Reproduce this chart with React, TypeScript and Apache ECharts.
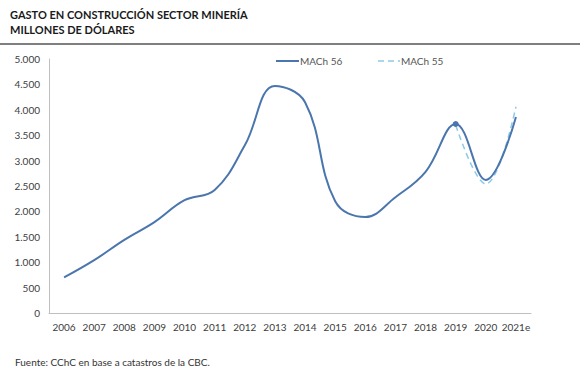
import React, { useEffect, useRef } from "react";
import * as echarts from "echarts";

const categories = ["2006","2007","2008","2009","2010","2011","2012","2013","2014","2015","2016","2017","2018","2019","2020","2021e"];
const mach56 = [700, 1040, 1440, 1790, 2220, 2420, 3300, 4470, 4150, 2200, 1890, 2280, 2780, 3720, 2620, 3860];
const mach55: (number | null)[] = [null, null, null, null, null, null, null, null, null, null, null, null, null, 3700, 2540, 4060];
const yTicks = { min: 0, max: 5000, interval: 500 };
const seriesNames = ["MACh 56", "MACh 55"];

const fmt = (v: number) => v.toString().replace(/\B(?=(\d{3})+(?!\d))/g, ".");

export default function App() {
  const ref = useRef<HTMLDivElement>(null);
  useEffect(() => {
    if (!ref.current) return;
    const chart = echarts.init(ref.current, undefined, { renderer: "svg" });
    const font = "Lato, 'Open Sans', sans-serif";
    const c56 = "#4a76ad";
    const c55 = "#8ecae6";
    chart.setOption({
      animation: false,
      backgroundColor: "#ffffff",
      textStyle: { fontFamily: font },
      grid: { left: 49, right: 56, top: 59, bottom: 69 },
      legend: { show: false },
      graphic: [
        { type: "text", left: 10, top: 9, style: { text: "GASTO EN CONSTRUCCIÓN SECTOR MINERÍA", font: `bold 11px ${font}`, fill: "#1a1a1a" } },
        { type: "text", left: 10, top: 24, style: { text: "MILLONES DE DÓLARES", font: `bold 11px ${font}`, fill: "#1a1a1a" } },
        { type: "line", shape: { x1: 0, y1: 44, x2: 580, y2: 44 }, style: { stroke: "#555555", lineWidth: 1.5 } },
        { type: "text", left: 15, top: 357, style: { text: "Fuente: CChC en base a catastros de la CBC.", font: `10px ${font}`, fill: "#333333" } },
        { type: "line", shape: { x1: 276, y1: 61, x2: 299, y2: 61 }, style: { stroke: c56, lineWidth: 2 } },
        { type: "text", x: 300, y: 61, style: { text: seriesNames[0], font: `10px ${font}`, fill: "#555555", verticalAlign: "middle" } },
        { type: "line", shape: { x1: 378, y1: 61, x2: 400, y2: 61 }, style: { stroke: c55, lineWidth: 1.5, lineDash: [6, 4] } },
        { type: "text", x: 401, y: 61, style: { text: seriesNames[1], font: `10px ${font}`, fill: "#555555", verticalAlign: "middle" } },
      ],
      xAxis: {
        type: "category",
        data: categories,
        boundaryGap: true,
        axisLine: { lineStyle: { color: "#bfbfbf", width: 1 } },
        axisTick: { show: false },
        axisLabel: { fontSize: 10, color: "#404040", margin: 9, interval: 0 },
      },
      yAxis: {
        type: "value",
        min: yTicks.min,
        max: yTicks.max,
        interval: yTicks.interval,
        axisLine: { show: true, lineStyle: { color: "#bfbfbf", width: 1 } },
        axisTick: { show: false },
        splitLine: { show: false },
        axisLabel: { fontSize: 10, color: "#404040", margin: 9, formatter: (v: number) => fmt(v) },
      },
      series: [
        {
          name: seriesNames[0],
          type: "line",
          data: mach56.map((v, i) => (i === 13 ? { value: v, symbol: "circle", symbolSize: 6 } : v)),
          smooth: 0.4,
          symbol: "none",
          lineStyle: { color: c56, width: 2 },
          itemStyle: { color: c56 },
          z: 3,
        },
        {
          name: seriesNames[1],
          type: "line",
          data: mach55,
          smooth: 0.4,
          symbol: "none",
          lineStyle: { color: c55, width: 1.5, type: [6, 4] },
          itemStyle: { color: c55 },
          z: 2,
        },
      ],
    });
    return () => chart.dispose();
  }, []);
  return <div ref={ref} style={{ position: "fixed", left: 0, top: 0, width: 587, height: 382 }} />;
}
